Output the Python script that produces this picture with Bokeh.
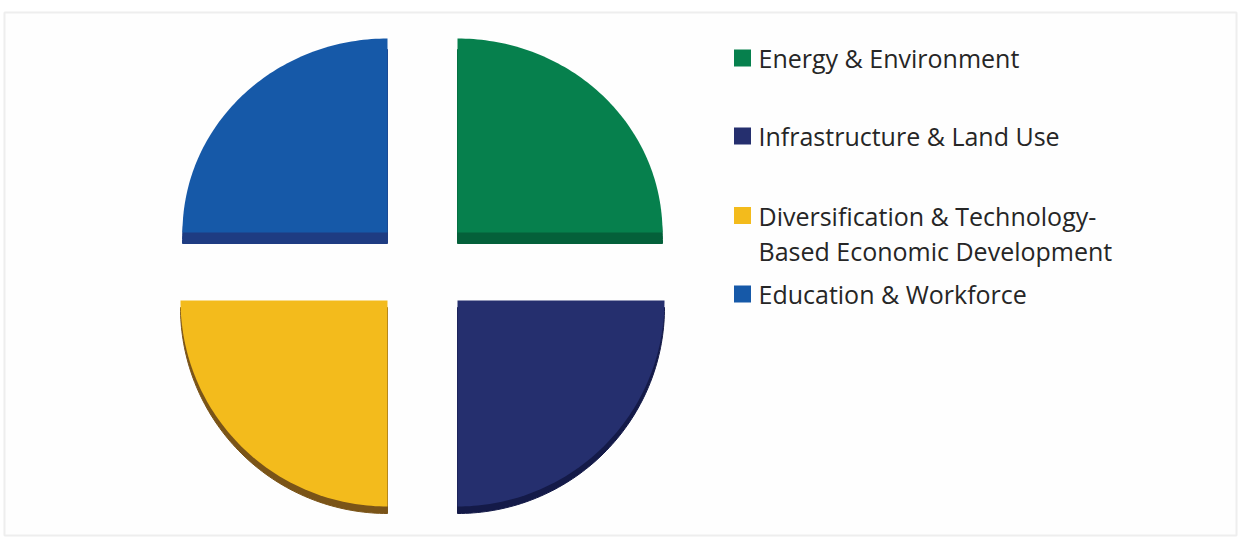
import math
from bokeh.plotting import figure
from bokeh.models import Range1d, ColumnDataSource
from bokeh.core.properties import value
from bokeh.embed import file_html
from bokeh.resources import INLINE

# ---- data ----
categories = ["Energy & Environment", "Infrastructure & Land Use",
              "Diversification & Technology-\nBased Economic Development",
              "Education & Workforce"]
shares = [25, 25, 25, 25]
colors = ["#06804d", "#252f6e", "#f3bb1c", "#1659a8"]
side_colors = ["#04603a", "#141a48", "#7a5418", "#1e3c82"]

# ---- layout (pixel-like data units; y measured upward) ----
W, H = 1240, 540
cx, cy = 422, 540 - 266
dx_exp, dy_exp = 35, 34
# slight perspective: far (top) half is flatter than the near (bottom) half
rx_top, ry_top, depth_top = 205, 194, 11
rx_bot, ry_bot, depth_bot = 207, 206, 7

p = figure(width=W, height=H, output_backend="svg", toolbar_location=None,
           min_border_left=4, min_border_right=4, min_border_top=12, min_border_bottom=5,
           x_range=Range1d(4, W - 4), y_range=Range1d(5, H - 12))
p.axis.visible = False
p.grid.visible = False
p.outline_line_color = "#eeeeee"
p.outline_line_width = 2
p.background_fill_color = "#fefefe"
p.border_fill_color = "#ffffff"

total = sum(shares)
start = math.pi / 2
top_x, top_y, side_x, side_y = [], [], [], []
n_seg = 80
for s in shares:
    sweep = 2 * math.pi * s / total
    end = start - sweep
    mid = (start + end) / 2
    upper = math.sin(mid) > 0
    rx, ry, d = (rx_top, ry_top, depth_top) if upper else (rx_bot, ry_bot, depth_bot)
    x0 = cx + dx_exp * (1 if math.cos(mid) > 0 else -1)
    y0 = cy + dy_exp * (1 if upper else -1)
    px, py = [x0], [y0]
    for k in range(n_seg + 1):
        a = start + (end - start) * k / n_seg
        px.append(x0 + rx * math.cos(a))
        py.append(y0 + ry * math.sin(a))
    top_x.append(px)
    top_y.append(py)
    side_x.append(px)
    side_y.append([v - d for v in py])
    start = end

p.patches(xs="xs", ys="ys", fill_color="c", line_color="c", line_width=1,
          source=ColumnDataSource(dict(xs=side_x, ys=side_y, c=side_colors)))
p.patches(xs="xs", ys="ys", fill_color="c", line_color=None,
          source=ColumnDataSource(dict(xs=top_x, ys=top_y, c=colors)))

# ---- legend ----
leg_x = 742
leg_text_x = 758
leg_rows = [540 - 57.5, 540 - 135.5, 540 - 215, 540 - 293.5]
line_gap = 35
p.rect(x=[leg_x] * len(categories), y=leg_rows, width=17, height=17,
       fill_color=colors, line_color=None)
tx, ty, tt = [], [], []
for lab, yy in zip(categories, leg_rows):
    for i, part in enumerate(lab.split("\n")):
        tx.append(leg_text_x)
        ty.append(yy - i * line_gap)
        tt.append(part)
p.text(x=tx, y=ty, text=tt, text_font=value("Open Sans"), text_font_size="25px",
       text_color="#262626", text_baseline="middle", text_align="left")

open("out.html", "w").write(file_html(p, INLINE))
